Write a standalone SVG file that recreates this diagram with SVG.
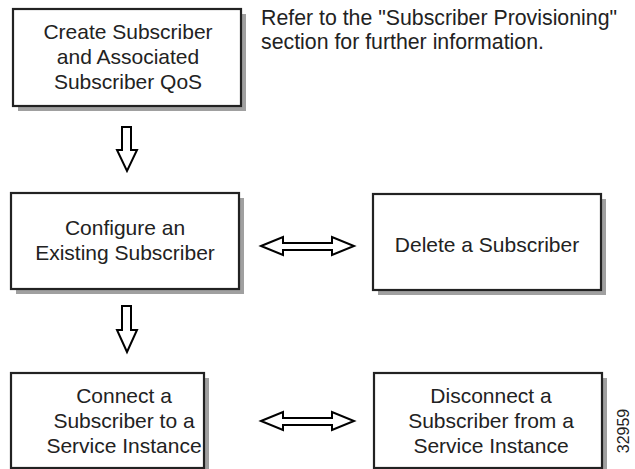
<svg xmlns="http://www.w3.org/2000/svg" width="635" height="469" viewBox="0 0 635 469">
<style>
.sh{fill:#a0a0a0}
.bx{fill:#fff;stroke:#222;stroke-width:2.2}
.t{font-family:"Liberation Sans",Arial,sans-serif;font-size:21px;fill:#222;text-anchor:middle}
.note{font-family:"Liberation Sans",Arial,sans-serif;font-size:21.3px;fill:#222}
.ar{fill:#fff;stroke:#000;stroke-width:2;stroke-linejoin:miter}
</style>
<rect width="635" height="469" fill="#fff"/>
<g id="create">
<rect class="sh" x="18" y="14" width="228" height="97"/>
<rect class="bx" x="13" y="9" width="228" height="97"/>
<text class="t" x="128" y="39">Create Subscriber</text>
<text class="t" x="128" y="64">and Associated</text>
<text class="t" x="128" y="89">Subscriber QoS</text>
</g>
<g id="note">
<text class="note" x="261" y="25">Refer to the "Subscriber Provisioning"</text>
<text class="note" x="261" y="49">section for further information.</text>
</g>
<g id="configure">
<rect class="sh" x="16" y="198" width="228" height="96"/>
<rect class="bx" x="11" y="193" width="228" height="96"/>
<text class="t" x="125" y="235">Configure an</text>
<text class="t" x="125" y="260">Existing Subscriber</text>
</g>
<g id="delete">
<rect class="sh" x="378" y="199" width="228" height="96"/>
<rect class="bx" x="373" y="194" width="228" height="96"/>
<text class="t" x="487" y="252">Delete a Subscriber</text>
</g>
<g id="connect">
<rect class="sh" x="16" y="378" width="193" height="96"/>
<rect class="bx" x="11" y="373" width="193" height="95"/>
<text class="t" x="124" y="403">Connect a</text>
<text class="t" x="124" y="428">Subscriber to a</text>
<text class="t" x="124" y="453">Service Instance</text>
</g>
<g id="disconnect">
<rect class="sh" x="379" y="378" width="228" height="96"/>
<rect class="bx" x="374" y="373" width="228" height="95"/>
<text class="t" x="491" y="403">Disconnect a</text>
<text class="t" x="491" y="428">Subscriber from a</text>
<text class="t" x="491" y="453">Service Instance</text>
</g>
<g id="connectors">
<path class="ar" d="M122,127 H131 V150 H137 L127,171 L117,150 H122 Z"/>
<path class="ar" d="M122,306 H131 V330 H137 L127,352 L117,330 H122 Z"/>
<path class="ar" d="M261,246 L283,237 V243 H332 V237 L354,246 L332,255 V250 H283 V255 Z"/>
<path class="ar" d="M261,421 L283,412 V418 H332 V412 L354,421 L332,430 V425 H283 V430 Z"/>
</g>
<text x="629" y="431" transform="rotate(-90 629 431)" font-family="'Liberation Sans',Arial,sans-serif" font-size="16" fill="#222" text-anchor="middle">32959</text>
</svg>
